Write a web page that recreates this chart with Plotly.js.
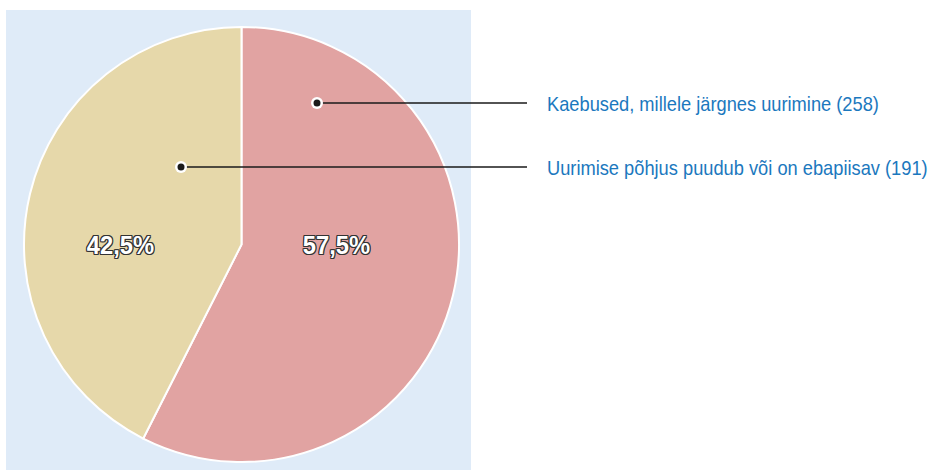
<!DOCTYPE html>
<html>
<head>
<meta charset="utf-8">
<script src="https://cdn.plot.ly/plotly-3.0.1.min.js"></script>
<style>
html,body{margin:0;padding:0;background:#fff;}
#chart{width:931px;height:470px;}
</style>
</head>
<body>
<div id="chart"></div>
<script>
const categories = ["Kaebused, millele järgnes uurimine", "Uurimise põhjus puudub või on ebapiisav"];
const values = [258, 191];
const colors = ["#E1A3A2", "#E6D8AA"];

const W = 931, H = 470;
const px = x => x / W;
const py = y => 1 - y / H;
const FONT = "'Liberation Sans', Arial, sans-serif";
const CONDENSE = 0.87; // emulate a condensed face

const total = values.reduce((a, b) => a + b, 0);
const pctText = v => (Math.round(v / total * 1000) / 10).toFixed(1).replace('.', ',') + '%';

// label placement (layout)
const pctPos = [[336, 245], [120, 245]];
const dotPos = [[317, 103], [181, 167]];
const lineEnd = 527;
const labelX = 545;

const shapes = [{
  type: 'rect', xref: 'paper', yref: 'paper', layer: 'below',
  x0: px(6), x1: px(471), y0: 0, y1: py(10),
  fillcolor: '#DFEBF8', line: {width: 0}
}];
const annotations = [];
categories.forEach((c, i) => {
  const [dx, dy] = dotPos[i];
  shapes.push({type: 'line', xref: 'paper', yref: 'paper', x0: px(dx), x1: px(lineEnd), y0: py(dy), y1: py(dy), line: {color: '#1a1a1a', width: 1.5}});
  shapes.push({type: 'circle', xref: 'paper', yref: 'paper', xsizemode: 'pixel', ysizemode: 'pixel', xanchor: px(dx), yanchor: py(dy), x0: -6, x1: 6, y0: -6, y1: 6, fillcolor: '#ffffff', line: {width: 0}});
  shapes.push({type: 'circle', xref: 'paper', yref: 'paper', xsizemode: 'pixel', ysizemode: 'pixel', xanchor: px(dx), yanchor: py(dy), x0: -3.5, x1: 3.5, y0: -3.5, y1: 3.5, fillcolor: '#1a1a1a', line: {width: 0}});
  annotations.push({xref: 'paper', yref: 'paper', x: px(labelX), y: py(dy), xanchor: 'left', yanchor: 'middle', align: 'left', showarrow: false,
    text: c + ' (' + values[i] + ')', font: {family: FONT, size: 21, color: '#1B78BE'}});
  annotations.push({xref: 'paper', yref: 'paper', x: px(pctPos[i][0]), y: py(pctPos[i][1]), xanchor: 'center', yanchor: 'middle', showarrow: false,
    text: pctText(values[i]), font: {family: FONT, size: 25, color: '#ffffff', weight: 700,
      shadow: '1px 1px 0 #333, -1px -1px 0 #333, 1px -1px 0 #333, -1px 1px 0 #333, 1px 0 0 #333, -1px 0 0 #333, 0 1px 0 #333, 0 -1px 0 #333'}});
});

const data = [{
  type: 'pie',
  labels: categories,
  values: values,
  sort: false,
  direction: 'clockwise',
  rotation: 0,
  marker: {colors: colors, line: {color: '#ffffff', width: 2}},
  textinfo: 'none',
  hoverinfo: 'none',
  domain: {x: [px(24), px(459)], y: [1 - 462 / H, 1 - 27 / H]}
}];

const layout = {
  width: W, height: H,
  margin: {l: 0, r: 0, t: 0, b: 0},
  paper_bgcolor: '#ffffff',
  showlegend: false,
  separators: ', ',
  shapes: shapes,
  annotations: annotations
};

Plotly.newPlot('chart', data, layout, {displayModeBar: false, staticPlot: true}).then(gd => {
  gd.querySelectorAll('.annotation-text').forEach(t => {
    const bb = t.getBBox();
    const anchor = t.getAttribute('text-anchor');
    const x0 = anchor === 'start' ? bb.x : bb.x + bb.width / 2;
    const s = anchor === 'start' ? CONDENSE : 0.95;
    t.setAttribute('transform', 'translate(' + (x0 * (1 - s)).toFixed(2) + ',0) scale(' + s + ',1)');
  });
});
</script>
</body>
</html>
